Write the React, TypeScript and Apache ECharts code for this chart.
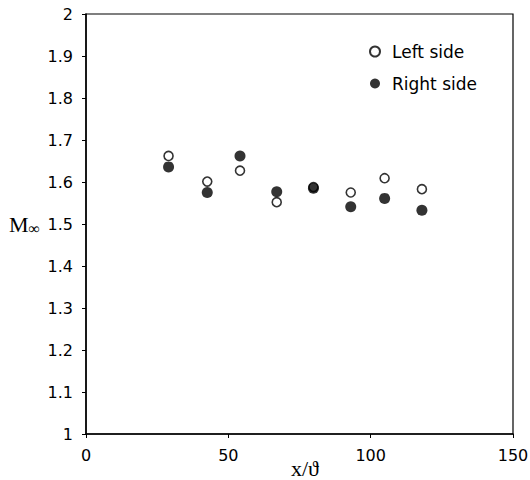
import React, { useEffect, useRef } from "react";
import * as echarts from "echarts";

const xLeft = [29, 42.6, 54.1, 67.0, 79.9, 93.0, 104.9, 118.0];
const yLeft = [1.662, 1.601, 1.627, 1.552, 1.588, 1.575, 1.609, 1.583];
const xRight = [29, 42.6, 54.1, 67.0, 79.9, 93.0, 104.9, 118.0];
const yRight = [1.636, 1.575, 1.662, 1.577, 1.585, 1.541, 1.561, 1.533];
const seriesNames = ["Left side", "Right side"];
const xTitle = "x/ϑ";

export default function App() {
  const ref = useRef<HTMLDivElement>(null);
  useEffect(() => {
    if (!ref.current) return;
    const chart = echarts.init(ref.current, null, { renderer: "svg" });
    const sans = "DejaVu Sans, Arial, sans-serif";
    const serif = "Liberation Serif, Times New Roman, serif";
    chart.setOption({
      animation: false,
      backgroundColor: "#fff",
      grid: {
        left: 86,
        top: 14,
        right: 17,
        bottom: 46,
        outerBoundsMode: "none",
        containLabel: false,
        show: true,
        borderColor: "#000",
        borderWidth: 1.2,
      },
      legend: {
        orient: "vertical",
        left: 364,
        top: 38,
        itemGap: 15,
        itemWidth: 10,
        itemHeight: 10,
        textStyle: { fontFamily: sans, fontSize: 17, color: "#000", padding: [0, 0, 0, 7] },
        data: [
          { name: seriesNames[0], icon: "circle" },
          { name: seriesNames[1], icon: "circle" },
        ],
      },
      graphic: [
        {
          type: "text",
          x: 305,
          y: 468,
          style: {
            text: xTitle,
            fontFamily: serif,
            fontSize: 22,
            fill: "#000",
            textAlign: "center",
            textVerticalAlign: "middle",
          },
        },
      ],
      xAxis: {
        type: "value",
        min: 0,
        max: 150,
        interval: 50,
        axisLine: { lineStyle: { color: "#000", width: 1.5 } },
        axisTick: { show: true, length: 4, lineStyle: { color: "#000" } },
        axisLabel: { fontFamily: sans, fontSize: 16, color: "#000", margin: 13 },
        splitLine: { show: false },
      },
      yAxis: {
        type: "value",
        min: 1,
        max: 2,
        interval: 0.1,
        name: "{a|M}{b|∞}",
        nameLocation: "middle",
        nameRotate: 0,
        nameGap: 46,
        nameTextStyle: {
          rich: {
            a: { fontFamily: serif, fontSize: 22, color: "#000" },
            b: { fontFamily: serif, fontSize: 16, color: "#000", padding: [9, 0, 0, 0] },
          },
        },
        axisLine: { lineStyle: { color: "#000", width: 1.5 } },
        axisTick: { show: true, length: 4, lineStyle: { color: "#000" } },
        axisLabel: {
          fontFamily: sans,
          fontSize: 16,
          color: "#000",
          margin: 13,
          formatter: (v: number) => String(Math.round(v * 10) / 10),
        },
        splitLine: { show: false },
      },
      series: [
        {
          name: seriesNames[0],
          type: "scatter",
          symbol: "circle",
          symbolSize: 9,
          data: xLeft.map((x, i) => [x, yLeft[i]]),
          itemStyle: { color: "#fff", borderColor: "#000", borderWidth: 1.6 },
          z: 2,
        },
        {
          name: seriesNames[1],
          type: "scatter",
          symbol: "circle",
          symbolSize: 11,
          data: xRight.map((x, i) => [x, yRight[i]]),
          itemStyle: { color: "#000", borderColor: "#000", borderWidth: 0 },
          z: 3,
        },
      ],
    });
    return () => chart.dispose();
  }, []);
  return (
    <div
      ref={ref}
      style={{ position: "absolute", left: 0, top: 0, width: 530, height: 480 }}
    />
  );
}
